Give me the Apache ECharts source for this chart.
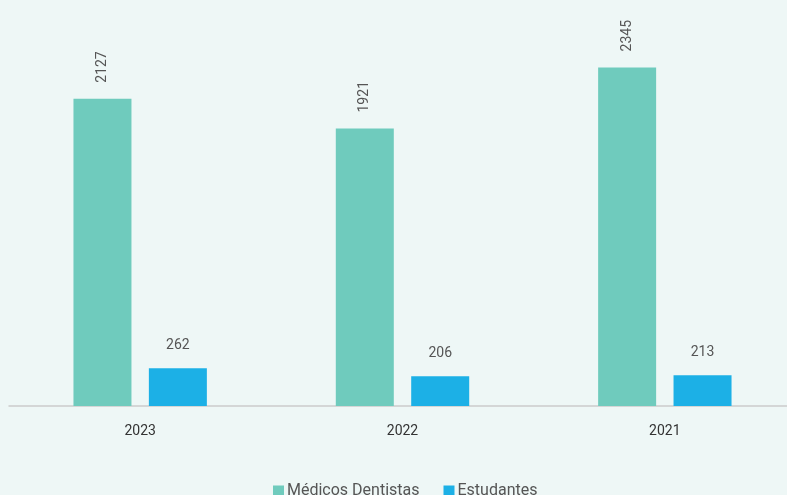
<!DOCTYPE html>
<html>
<head>
<meta charset="utf-8">
<script src="https://cdn.jsdelivr.net/npm/echarts@6/dist/echarts.min.js"></script>
<style>
html,body{margin:0;padding:0;background:#eef7f6;}
#c{width:787px;height:495px;}
</style>
</head>
<body>
<div id="c"></div>
<script>
const categories = ['2023', '2022', '2021'];
const medicos = [2127, 1921, 2345];
const estudantes = [262, 206, 213];
const seriesNames = ['Médicos Dentistas', 'Estudantes'];

const chart = echarts.init(document.getElementById('c'));
const font = 'Roboto';
chart.setOption({
  backgroundColor: '#eef7f6',
  animation: false,
  grid: { left: 9, width: 787, top: 45, bottom: 89, outerBoundsMode: 'none', containLabel: false },
  legend: {
    top: 478, left: 268,
    itemWidth: 11, itemHeight: 11, itemGap: 24,
    icon: 'rect',
    textStyle: { color: '#555', fontSize: 16, fontFamily: font, padding: [0, 0, 0, -2] },
    data: seriesNames
  },
  xAxis: {
    type: 'category',
    data: categories,
    axisLine: { lineStyle: { color: '#cccccc', width: 1.5 } },
    axisTick: { show: false },
    axisLabel: { color: '#333', fontSize: 14, fontFamily: font, margin: 18 }
  },
  yAxis: {
    type: 'value', min: 0, max: 2500,
    show: false,
    splitLine: { show: false }
  },
  series: [
    {
      name: seriesNames[0], type: 'bar', data: medicos,
      barWidth: 58, barGap: '30%',
      itemStyle: { color: '#6fcbbd' },
      label: {
        show: true, position: 'top', rotate: 90, align: 'left', verticalAlign: 'middle',
        distance: 16, color: '#555', fontSize: 14, fontFamily: font
      }
    },
    {
      name: seriesNames[1], type: 'bar', data: estudantes,
      barWidth: 58,
      itemStyle: { color: '#1cb0e6' },
      label: {
        show: true, position: 'top', distance: 16, color: '#555', fontSize: 14, fontFamily: font
      }
    }
  ]
});
</script>
</body>
</html>
